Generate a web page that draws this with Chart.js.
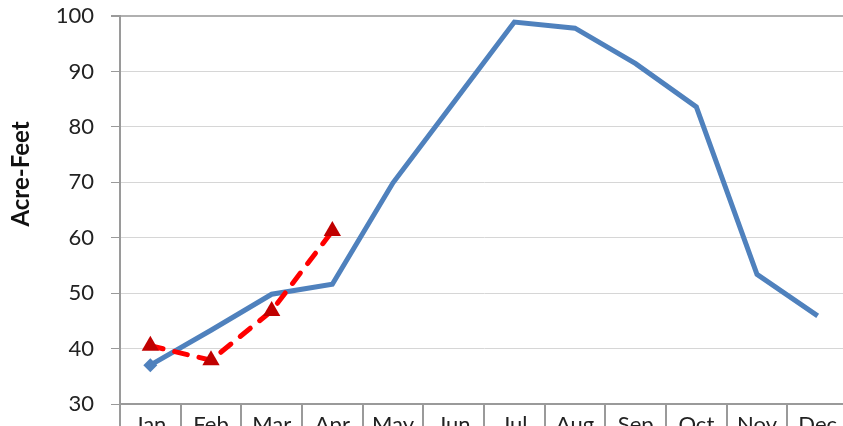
<!DOCTYPE html>
<html>
<head>
<meta charset="utf-8">
<script src="https://cdn.jsdelivr.net/npm/chart.js@4/dist/chart.umd.min.js"></script>
<style>
  html, body { margin: 0; padding: 0; background: #ffffff; overflow: hidden; }
  #wrap { position: absolute; left: 0; top: 0; width: 858px; height: 452px; }
</style>
</head>
<body>
<div id="wrap"><canvas id="chart"></canvas></div>
<script>
// Monthly volumes in acre-feet
const months = ["Jan", "Feb", "Mar", "Apr", "May", "Jun", "Jul", "Aug", "Sep", "Oct", "Nov", "Dec"];
const typicalYear = [37.0, 43.3, 49.8, 51.6, 69.9, 84.4, 98.9, 97.8, 91.4, 83.6, 53.4, 45.9];
const currentYear = [40.5, 37.9, 46.8, 61.2, null, null, null, null, null, null, null, null];
const yTicks = [30, 40, 50, 60, 70, 80, 90, 100];
const yTitle = "Acre-Feet";

const FONT = "Lato, 'Liberation Sans', sans-serif";

// Axis title sits a little above the middle of the value axis
const axisTitle = {
  id: "axisTitle",
  afterDraw(chart) {
    const ctx = chart.ctx;
    ctx.save();
    ctx.translate(21, 174);
    ctx.rotate(-Math.PI / 2);
    ctx.font = "bold 24px " + FONT;
    ctx.fillStyle = "#111111";
    ctx.textAlign = "center";
    ctx.textBaseline = "middle";
    ctx.fillText(yTitle, 0, 0);
    ctx.restore();
  }
};

new Chart(document.getElementById("chart"), {
  type: "line",
  data: {
    labels: months,
    datasets: [
      {
        label: "Typical",
        data: typicalYear,
        borderColor: "#4f81bd",
        backgroundColor: "#4f81bd",
        borderWidth: 5,
        tension: 0,
        pointStyle: "rectRot",
        pointRadius: typicalYear.map((v, i) => i === 0 ? 7 : 0),
        pointBorderWidth: 0,
        order: 2
      },
      {
        label: "Current",
        data: currentYear,
        borderColor: "#ff0000",
        backgroundColor: "#c00000",
        borderWidth: 5,
        borderDash: [13, 12],
        borderCapStyle: "round",
        tension: 0,
        pointStyle: "triangle",
        pointRadius: 10,
        pointBorderWidth: 0,
        spanGaps: false,
        order: 1
      }
    ]
  },
  options: {
    responsive: true,
    maintainAspectRatio: false,
    animation: false,
    layout: { padding: { top: 16, left: 0, right: 0, bottom: 0 } },
    plugins: { legend: { display: false }, tooltip: { enabled: false } },
    scales: {
      x: {
        offset: true,
        grid: {
          offset: true,
          drawOnChartArea: false,
          color: "#9a9a9a",
          lineWidth: 2,
          tickLength: 48
        },
        border: { color: "#9a9a9a", width: 2 },
        ticks: {
          padding: -40,
          color: "#222222",
          font: { family: FONT, size: 22 }
        },
        afterFit: (s) => { s.height = 48; s.paddingLeft = 0; s.paddingRight = 0; }
      },
      y: {
        min: 30,
        max: 100,
        afterBuildTicks: (s) => { s.ticks = yTicks.map(v => ({ value: v })); },
        grid: {
          color: (ctx) => ctx.tick && ctx.tick.value === 100 ? "#b0b0b0" : "#d6d6d6",
          lineWidth: (ctx) => ctx.tick && ctx.tick.value === 100 ? 2 : 1,
          tickColor: "#9a9a9a",
          tickLength: 9,
          drawTicks: true
        },
        border: { color: "#9a9a9a", width: 2 },
        ticks: {
          padding: 17,
          color: "#222222",
          font: { family: FONT, size: 22 }
        },
        title: { display: false },
        afterFit: (s) => { s.width = 120; s.paddingTop = 0; s.paddingBottom = 0; }
      }
    }
  },
  plugins: [axisTitle]
});
</script>
</body>
</html>
